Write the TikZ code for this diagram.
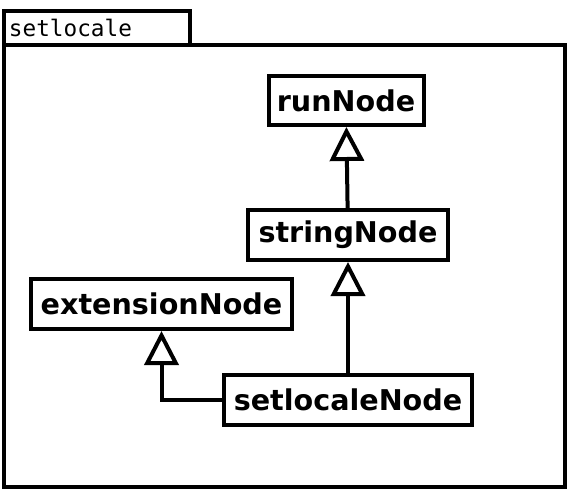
\documentclass[tikz,border=0pt]{standalone}
\usepackage{fontspec}
\setmainfont{DejaVu Sans}
\setmonofont{DejaVu Sans Mono}
\usetikzlibrary{arrows.meta}

\begin{document}
\begin{tikzpicture}[x=1pt,y=-1pt,line width=4pt,
                    >={Triangle[open,length=34pt,width=34pt]}]
\tikzstyle{class}=[draw,inner sep=0pt,
                   font=\fontsize{28.6}{34}\selectfont\bfseries]
\useasboundingbox (0,0) rectangle (567,496);
% package frame
\draw (3.5,10.5) rectangle (190,45);
\draw (3.5,45) rectangle (565,487);
\node[anchor=west,inner sep=0pt,font=\ttfamily\fontsize{22.7}{26}\selectfont] (PKG) at (7,28) {setlocale};
% classes
\node[class,minimum width=155pt,minimum height=49pt] (RUN) at (346,100.5) {runNode};
\node[class,minimum width=200pt,minimum height=50pt] (STRING) at (348,235) {stringNode};
\node[class,minimum width=261pt,minimum height=50pt] (EXT) at (161.5,304) {extensionNode};
\node[class,minimum width=248pt,minimum height=50pt] (SETLOCALE) at (348,400) {setlocaleNode};
% generalizations
\draw[->] (STRING) -- (RUN);
\draw[->] (SETLOCALE) -- (STRING);
\draw[->] (SETLOCALE.west) -| (EXT.south);
\end{tikzpicture}
\end{document}
